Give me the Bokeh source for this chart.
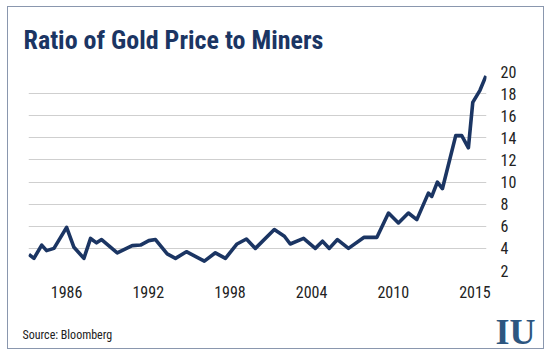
from bokeh.plotting import figure
from bokeh.layouts import column
from bokeh.models import Range1d, FixedTicker, Label, ColumnDataSource
from bokeh.embed import file_html
from bokeh.resources import INLINE

years = [1983.23, 1983.60, 1984.17, 1984.53, 1985.07, 1986.00, 1986.54, 1987.27,
         1987.76, 1988.20, 1988.57, 1989.72, 1990.82, 1991.43, 1992.04, 1992.53,
         1993.39, 1994.00, 1994.80, 1996.12, 1996.93, 1997.67, 1998.52, 1999.21,
         1999.87, 2001.26, 2002.00, 2002.43, 2003.41, 2004.27, 2004.80, 2005.30,
         2005.90, 2006.71, 2007.86, 2008.80, 2009.65, 2010.38, 2011.11, 2011.73,
         2012.58, 2012.83, 2013.24, 2013.61, 2014.59, 2015.03, 2015.52, 2015.84,
         2016.37, 2016.81]
ratio = [3.45, 3.1, 4.3, 3.8, 4.0, 5.9, 4.1, 3.1,
         4.9, 4.5, 4.8, 3.6, 4.25, 4.3, 4.7, 4.8,
         3.5, 3.1, 3.7, 2.85, 3.6, 3.1, 4.4, 4.85,
         4.0, 5.7, 5.1, 4.4, 4.9, 4.0, 4.65, 4.0,
         4.8, 4.0, 5.0, 5.0, 7.2, 6.3, 7.2, 6.6,
         9.0, 8.7, 10.0, 9.4, 14.2, 14.2, 13.1, 17.2,
         18.3, 19.6]

x_tick_pos = [1986, 1992, 1998, 2004, 2010, 2016]
x_tick_labels = ["1986", "1992", "1998", "2004", "2010", "2015"]
y_ticks = [2, 4, 6, 8, 10, 12, 14, 16, 18, 20]

title_text = "Ratio of Gold Price to Miners"
source_text = "Source: Bloomberg"
logo_text = "IU"

NAVY = "#1b3563"
W = 535


def blank(h):
    f = figure(width=W, height=h, output_backend="svg", toolbar_location=None,
               x_axis_type=None, y_axis_type=None, x_range=Range1d(0, 1), y_range=Range1d(0, 1),
               min_border=0, min_border_left=0, min_border_right=0,
               min_border_top=0, min_border_bottom=0)
    f.frame_align = False
    f.outline_line_color = None
    f.background_fill_color = "white"
    f.border_fill_color = "white"
    f.xgrid.visible = False
    f.ygrid.visible = False
    return f


header = blank(50)
header.add_layout(Label(x=15, y=18, x_units="screen", y_units="screen", text=title_text,
                        text_font="Roboto Condensed", text_font_style="bold",
                        text_font_size="26px", text_baseline="alphabetic", text_color=NAVY))

p = figure(width=W, height=246, output_backend="svg", toolbar_location=None,
           x_range=Range1d(1983.2, 2016.85), y_range=Range1d(2, 20),
           y_axis_location="right",
           min_border_left=20, min_border_right=57, min_border_top=14, min_border_bottom=33)
p.outline_line_color = None
p.background_fill_color = "white"
p.border_fill_color = "white"
p.xgrid.grid_line_color = None
p.ygrid.grid_line_color = "#cfcfcf"
p.ygrid.grid_line_width = 1

p.xaxis.ticker = FixedTicker(ticks=x_tick_pos)
p.xaxis.major_label_overrides = {t: l for t, l in zip(x_tick_pos, x_tick_labels)}
p.yaxis.ticker = FixedTicker(ticks=y_ticks)
for ax in (p.xaxis[0], p.yaxis[0]):
    ax.axis_line_color = None
    ax.major_tick_line_color = None
    ax.minor_tick_line_color = None
    ax.major_label_text_font = "Roboto Condensed"
    ax.major_label_text_font_size = "16px"
    ax.major_label_text_color = "#222222"
p.xaxis.major_label_standoff = 9
p.yaxis.major_label_standoff = 8

src = ColumnDataSource(dict(x=years, y=ratio))
p.line("x", "y", source=src, line_color=NAVY, line_width=3.6, line_join="round")

footer = blank(45)
footer.add_layout(Label(x=14, y=14, x_units="screen", y_units="screen", text=source_text,
                        text_font="Roboto Condensed", text_font_size="12px",
                        text_baseline="alphabetic", text_color="#222222"))
footer.add_layout(Label(x=487, y=17, x_units="screen", y_units="screen", text=logo_text,
                        text_font="Liberation Serif", text_font_style="bold",
                        text_baseline="alphabetic", text_font_size="36px", text_color="#2d5680"))

layout = column(header, p, footer, spacing=0)
layout.styles = {"border": "1px solid #8a97ae", "margin-top": "6px", "margin-left": "7px"}

open("out.html", "w").write(file_html(layout, INLINE))
